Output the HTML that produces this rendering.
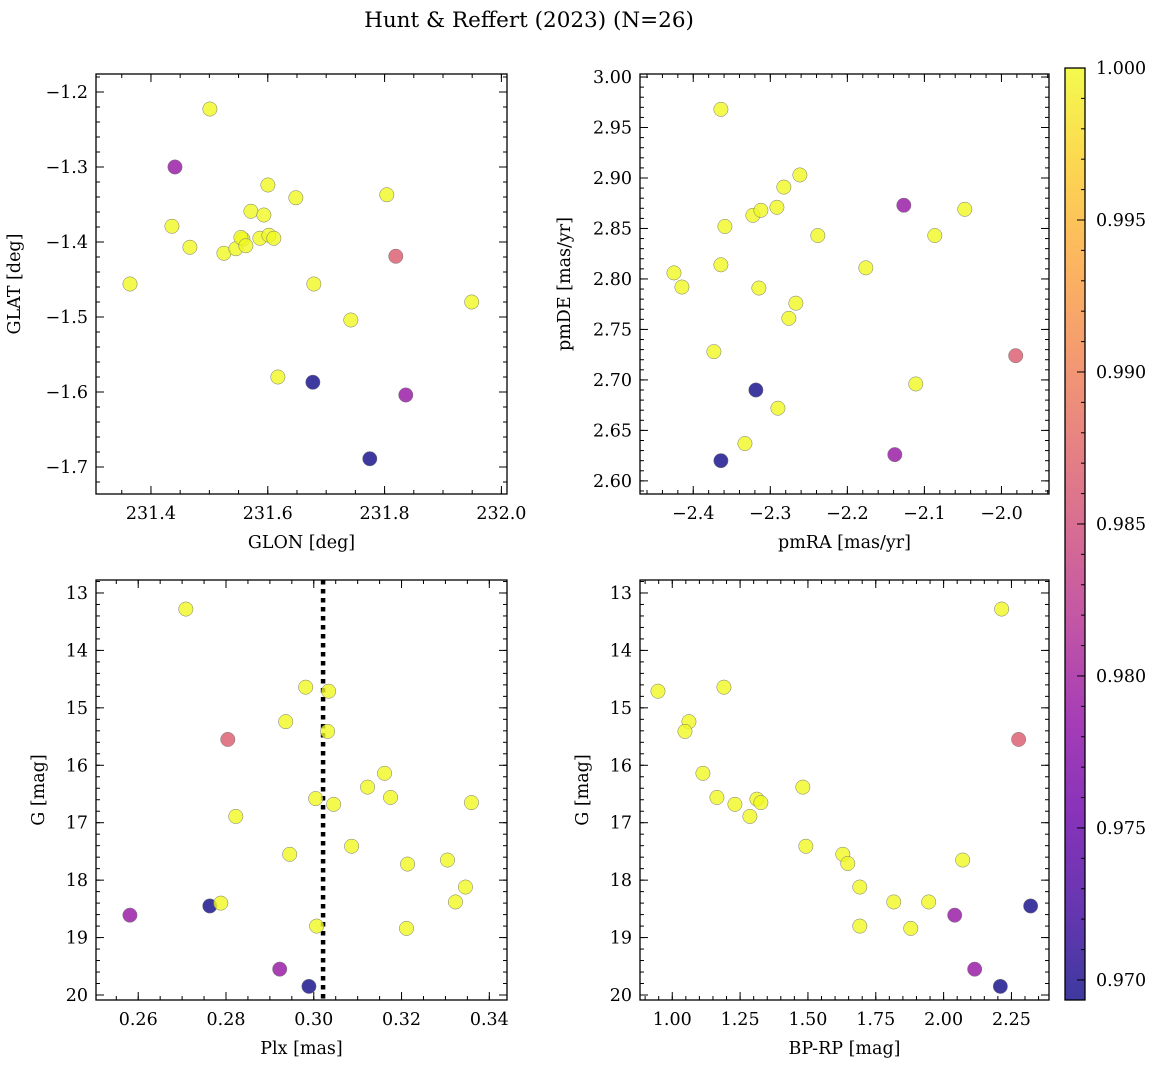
<!DOCTYPE html>
<html><head><meta charset="utf-8">
<style>
body{margin:0;background:#fff;}
svg text{font-family:"DejaVu Serif","Liberation Serif",serif;fill:#000;}
</style></head>
<body>
<svg id="fig" width="1161" height="1068" xmlns="http://www.w3.org/2000/svg">
<text x="529" y="27" font-size="21.5" text-anchor="middle">Hunt &amp; Reffert (2023) (N=26)</text>
</svg>
<script>
// Panel 1: GLON vs GLAT
const p1x=[231.5009,231.4411,231.4359,231.4667,231.3641,231.5249,231.5454,231.5574,231.5540,231.5625,231.5711,231.5865,231.5933,231.6002,231.6019,231.6104,231.6481,231.8038,231.8192,231.6789,231.7422,231.9492,231.6173,231.6772,231.8363,231.7747];
const p1y=[-1.2227,-1.300,-1.379,-1.407,-1.456,-1.415,-1.409,-1.396,-1.394,-1.405,-1.359,-1.395,-1.364,-1.324,-1.391,-1.395,-1.341,-1.337,-1.419,-1.456,-1.504,-1.480,-1.580,-1.587,-1.604,-1.689];
const p1c=[1,0.979,1,1,1,1,1,1,1,1,1,1,1,1,1,1,1,1,0.9865,1,1,1,1,0.9694,0.979,0.9694];
// Panel 2: pmRA vs pmDE
const p2x=[-2.3641,-2.4250,-2.4147,-2.3641,-2.3589,-2.3732,-2.3226,-2.3122,-2.2914,-2.2824,-2.2616,-2.2383,-2.3148,-2.2668,-2.2759,-2.1760,-2.1267,-2.0865,-2.0476,-2.1112,-1.9815,-2.3187,-2.2901,-2.3329,-2.3641,-2.1384];
const p2y=[2.968,2.806,2.792,2.814,2.852,2.728,2.863,2.868,2.871,2.891,2.903,2.843,2.791,2.776,2.761,2.811,2.873,2.843,2.869,2.696,2.724,2.690,2.672,2.637,2.620,2.626];
const p2c=[1,1,1,1,1,1,1,1,1,1,1,1,1,1,1,1,0.979,1,1,1,0.9865,0.9694,1,1,0.9694,0.979];
// Panel 3: Plx vs G
const p3x=[0.27085,0.29816,0.30339,0.29361,0.30316,0.28041,0.31613,0.31226,0.31750,0.30043,0.30453,0.33593,0.28223,0.30862,0.29452,0.33047,0.32137,0.33456,0.25811,0.27631,0.27882,0.33229,0.30066,0.32114,0.29224,0.29890];
const p3y=[13.28,14.64,14.71,15.24,15.41,15.55,16.14,16.38,16.56,16.58,16.68,16.65,16.89,17.41,17.55,17.65,17.72,18.12,18.61,18.45,18.40,18.38,18.80,18.84,19.55,19.85];
const p3c=[1,1,1,1,1,0.9865,1,1,1,1,1,1,1,1,1,1,1,1,0.979,0.9694,1,1,1,1,0.979,0.9694];
const plxLine=[0.30212];
// Panel 4: BP-RP vs G
const p4x=[0.9473,1.0615,1.0468,1.1904,1.1130,1.1646,1.2309,1.2861,1.3119,1.3266,1.4812,1.4923,1.6285,1.6469,1.6911,1.6911,1.8163,1.8789,1.9451,2.0703,2.0409,2.2139,2.2765,2.3207,2.1145,2.2091];
const p4y=[14.71,15.24,15.41,14.64,16.14,16.56,16.68,16.89,16.59,16.65,16.38,17.41,17.55,17.71,18.12,18.80,18.38,18.84,18.38,17.65,18.61,13.28,15.55,18.45,19.55,19.85];
const p4c=[1,1,1,1,1,1,1,1,1,1,1,1,1,1,1,1,1,1,1,1,0.979,1,0.9865,0.9694,0.979,0.9694];
const cbTicks=[0.970,0.975,0.980,0.985,0.990,0.995,1.000];

const NS='http://www.w3.org/2000/svg';
const svg=document.getElementById('fig');
function mk(t,a,p){const e=document.createElementNS(NS,t);for(const k in a)e.setAttribute(k,a[k]);(p||svg).appendChild(e);return e;}
const plasma=[[13,8,135],[65,4,157],[106,0,168],[143,13,164],[177,42,144],[204,71,120],[225,100,98],[242,132,75],[252,166,54],[252,206,37],[240,249,33]];
function cmap(t){t=Math.max(0,Math.min(1,t));const f=t*10,i=Math.min(9,Math.floor(f)),r=f-i;const a=plasma[i],b=plasma[i+1];
 return 'rgb('+a.map((v,k)=>Math.round(v+(b[k]-v)*r)).join(',')+')';}
const CMIN=0.96934,CMAX=1.0;
function fmt(v,d){return (v<0?'\u2212':'')+Math.abs(v).toFixed(d);}

function panel(o){
 const g=mk('g',{});
 
 
 const sx=v=>o.L+(v-o.x0)/(o.x1-o.x0)*(o.R-o.L);
 const sy=v=>o.B-(v-o.y0)/(o.y1-o.y0)*(o.B-o.T);
 const ticks=(a,b,s)=>{const r=[];for(let v=Math.ceil(a/s-1e-6)*s;v<=b+1e-9;v+=s)r.push(Math.round(v/s)*s);return r;};
 const lo=Math.min(o.x0,o.x1),hi=Math.max(o.x0,o.x1),ylo=Math.min(o.y0,o.y1),yhi=Math.max(o.y0,o.y1);
 ticks(lo,hi,o.xm).forEach(v=>{const x=sx(v);mk('line',{x1:x,x2:x,y1:o.B,y2:o.B-4,stroke:'#000'},g);mk('line',{x1:x,x2:x,y1:o.T,y2:o.T+4,stroke:'#000'},g);});
 ticks(ylo,yhi,o.ym).forEach(v=>{const y=sy(v);mk('line',{x1:o.L,x2:o.L+4,y1:y,y2:y,stroke:'#000'},g);mk('line',{x1:o.R,x2:o.R-4,y1:y,y2:y,stroke:'#000'},g);});
 ticks(lo,hi,o.xM).forEach(v=>{const x=sx(v);mk('line',{x1:x,x2:x,y1:o.B,y2:o.B-8,stroke:'#000'},g);mk('line',{x1:x,x2:x,y1:o.T,y2:o.T+8,stroke:'#000'},g);
  const t=mk('text',{x:x,y:o.B+25,'font-size':17.5,'text-anchor':'middle'},g);t.textContent=fmt(v,o.xd);
  
  });
 ticks(ylo,yhi,o.yM).forEach(v=>{const y=sy(v);mk('line',{x1:o.L,x2:o.L+8,y1:y,y2:y,stroke:'#000'},g);mk('line',{x1:o.R,x2:o.R-8,y1:y,y2:y,stroke:'#000'},g);
  const t=mk('text',{x:o.L-8,y:y+6,'font-size':17.5,'text-anchor':'end'},g);t.textContent=fmt(v,o.yd);
  
  });
 if(o.vline){o.vline.forEach(v=>{const l=mk('line',{x1:sx(v),x2:sx(v),y1:o.T,y2:o.B,stroke:'#000','stroke-width':4.5,'stroke-dasharray':'4.5,4.5'},g);
  
  });}
 o.xs.forEach((v,i)=>{const c=mk('circle',{cx:sx(v),cy:sy(o.ys[i]),r:7.2,fill:cmap((o.cs[i]-CMIN)/(CMAX-CMIN)),'fill-opacity':0.8,stroke:'#777','stroke-width':0.5},g);
  
  });
 mk('rect',{x:o.L,y:o.T,width:o.R-o.L,height:o.B-o.T,fill:'none',stroke:'#000','stroke-width':1.3},g);
 const xl=mk('text',{x:(o.L+o.R)/2,y:o.B+54,'font-size':17.5,'text-anchor':'middle'},g);xl.textContent=o.xl;
 
 
 const cy=(o.T+o.B)/2,cx=o.L-o.yo;
 const yl=mk('text',{x:cx,y:cy,'font-size':17.5,'text-anchor':'middle',transform:`rotate(-90 ${cx} ${cy})`},g);yl.textContent=o.yl;
 
 
}
panel({name:'glon-glat-panel',L:96,R:507,T:74,B:494,x0:231.3059,x1:232.0096,y0:-1.736,y1:-1.176,xM:0.2,xm:0.05,yM:0.1,ym:0.02,xd:1,yd:1,xs:p1x,ys:p1y,cs:p1c,xl:'GLON [deg]',yl:'GLAT [deg]',yo:76});
panel({name:'proper-motion-panel',L:640,R:1049,T:74,B:494,x0:-2.4691,x1:-1.9383,y0:2.587,y1:3.003,xM:0.1,xm:0.02,yM:0.05,ym:0.01,xd:1,yd:2,xs:p2x,ys:p2y,cs:p2c,xl:'pmRA [mas/yr]',yl:'pmDE [mas/yr]',yo:70});
panel({name:'parallax-mag-panel',L:96,R:507,T:580,B:1000,x0:0.25038,x1:0.34403,y0:20.087,y1:12.774,xM:0.02,xm:0.005,yM:1,ym:0.2,xd:2,yd:0,xs:p3x,ys:p3y,cs:p3c,xl:'Plx [mas]',yl:'G [mag]',yo:52,vline:plxLine});
panel({name:'cmd-panel',L:640,R:1049,T:580,B:1000,x0:0.8811,x1:2.3884,y0:20.087,y1:12.774,xM:0.25,xm:0.05,yM:1,ym:0.2,xd:2,yd:0,xs:p4x,ys:p4y,cs:p4c,xl:'BP-RP [mag]',yl:'G [mag]',yo:52});

// colorbar
const cb=mk('g',{});


const defs=mk('defs',{},cb);
const lg=mk('linearGradient',{id:'pl',x1:0,y1:1,x2:0,y2:0},defs);
for(let i=0;i<=10;i++)mk('stop',{offset:i/10,'stop-color':cmap(i/10),'stop-opacity':0.8},lg);
const CT=68,CB=1000,CL=1065,CR=1085;
const cyv=v=>CB-(v-CMIN)/(CMAX-CMIN)*(CB-CT);
mk('rect',{x:CL,y:CT,width:CR-CL,height:CB-CT,fill:'url(#pl)'},cb);
for(let v=0.970;v<=1.00001;v+=0.001){const y=cyv(v);mk('line',{x1:CR,x2:CR-4,y1:y,y2:y,stroke:'#000'},cb);}
cbTicks.forEach(v=>{const y=cyv(v);mk('line',{x1:CR,x2:CR-8,y1:y,y2:y,stroke:'#000'},cb);
 const t=mk('text',{x:CR+11,y:y+6,'font-size':17.5},cb);t.textContent=v.toFixed(3);
 
 });
mk('rect',{x:CL,y:CT,width:CR-CL,height:CB-CT,fill:'none',stroke:'#000','stroke-width':1.3},cb);
</script>
</body></html>
